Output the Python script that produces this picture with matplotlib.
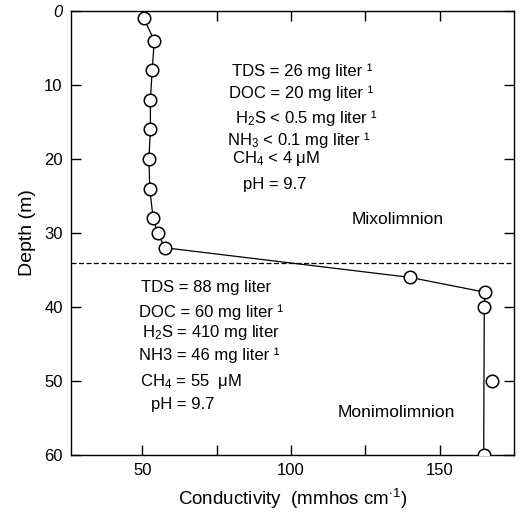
import matplotlib
matplotlib.use("Agg")
import matplotlib.pyplot as plt

plt.rcParams['font.family'] = ['Liberation Sans', 'DejaVu Sans']
plt.rcParams['mathtext.fontset'] = 'custom'
plt.rcParams['mathtext.rm'] = 'Liberation Sans'
plt.rcParams['mathtext.it'] = 'Liberation Sans:italic'

# conductivity profile (mmhos cm-1) vs depth (m)
conductivity = [50.5, 54, 53.3, 52.7, 52.7, 52.2, 52.5, 53.6, 55.1, 57.6, 140, 165.2, 165, 167.5, 164.8]
depth = [1, 4, 8, 12, 16, 20, 24, 28, 30, 32, 36, 38, 40, 50, 60]

# the drawn line skips the 50 m point
line_cond = [50.5, 54, 53.3, 52.7, 52.7, 52.2, 52.5, 53.6, 55.1, 57.6, 140, 165.2, 165, 164.8]
line_depth = [1, 4, 8, 12, 16, 20, 24, 28, 30, 32, 36, 38, 40, 60]

chemocline = 34

x_ticks = [50, 75, 100, 125, 150]
x_labels = ['50', '', '100', '', '150']
y_ticks = [0, 10, 20, 30, 40, 50, 60]
y_labels = ['0', '10', '20', '30', '40', '50', '60']

mixo_text = ['TDS = 26 mg liter ¹', 'DOC = 20 mg liter ¹', 'H$_2$S < 0.5 mg liter ¹',
             'NH$_3$ < 0.1 mg liter ¹', 'CH$_4$ < 4 μM', 'pH = 9.7']
monimo_text = ['TDS = 88 mg liter', 'DOC = 60 mg liter ¹', 'H$_2$S = 410 mg liter',
               'NH3 = 46 mg liter ¹', 'CH$_4$ = 55  μM', 'pH = 9.7']

fig = plt.figure(figsize=(5.23, 5.13), dpi=100)
ax = fig.add_axes([0.1358, 0.1131, 0.847, 0.8655])

ax.plot(line_cond, line_depth, color='black', lw=0.9, zorder=2)
ax.plot(conductivity, depth, ls='none', marker='o', ms=9, mfc='white', mec='black', mew=1.1, zorder=3)
ax.axhline(chemocline, color='black', lw=0.9, ls=(0, (4, 2)), zorder=1)

ax.set_xlim(26, 175)
ax.set_ylim(60, 0)
ax.set_xticks(x_ticks)
ax.set_xticklabels(x_labels)
ax.set_yticks(y_ticks)
ax.set_yticklabels(y_labels)
ax.get_yticklabels()[0].set_style('italic')
ax.tick_params(direction='in', length=7, width=1, top=True, right=True, labelsize=12, pad=6)

ax.set_xlabel('Conductivity  (mmhos cm$^{\\cdot 1}$)', fontsize=13.5, labelpad=6)
ax.set_ylabel('Depth (m)', fontsize=14, labelpad=6)

for s in ax.spines.values():
    s.set_linewidth(1)

# annotations
mixo_x = [80.3, 79.3, 81, 78.6, 80, 83.7]
mixo_y = [8.2, 11.1, 14.5, 17.4, 19.9, 23.5]
for t, x, y in zip(mixo_text, mixo_x, mixo_y):
    ax.text(x, y, t, fontsize=12, ha='left', va='center')

mon_x = [49.7, 48.7, 50, 48.7, 49.3, 53]
mon_y = [37.4, 40.7, 43.5, 46.5, 50.1, 53.2]
for t, x, y in zip(monimo_text, mon_x, mon_y):
    ax.text(x, y, t, fontsize=12, ha='left', va='center')

ax.text(136, 28.2, 'Mixolimnion', fontsize=12.5, ha='center', va='center')
ax.text(135.5, 54.3, 'Monimolimnion', fontsize=12.5, ha='center', va='center')

fig.savefig('out.png', dpi=100)
